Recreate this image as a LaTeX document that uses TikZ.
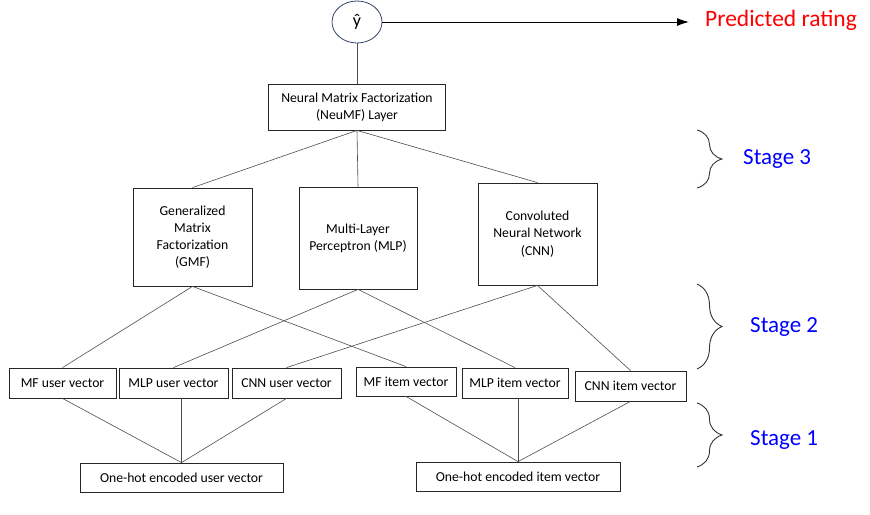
\documentclass[tikz,border=0pt]{standalone}
\usepackage{fontspec}
\setmainfont{Carlito}
\usetikzlibrary{arrows.meta,decorations.pathreplacing,shapes.geometric}
\definecolor{ovalblue}{HTML}{34456A}
\tikzstyle{block} = [draw=black!85, line width=0.8pt, align=center, inner sep=2pt, font=\fontsize{13.7}{17.2}\selectfont]
\tikzstyle{link} = [draw=black!70, line width=0.6pt]
\tikzstyle{stagebrace} = [draw=black!80, line width=0.9pt, decorate, decoration={brace, amplitude=25pt}]
\tikzstyle{stage} = [text=blue, font=\fontsize{23}{26}\selectfont, anchor=west, inner sep=0pt]

\begin{document}
\begin{tikzpicture}[x=1pt, y=-1pt]
\useasboundingbox (0,0) rectangle (870,514);

% output
\node[ellipse, draw=ovalblue, line width=0.8pt, minimum width=50pt, minimum height=42pt, inner sep=0pt, font=\fontsize{18}{20}\selectfont] (yhat) at (357,22) {ŷ};
\coordinate (tip) at (689,22);
\draw[line width=1pt, -{Latex[length=12pt,width=8pt]}] (yhat) -- (tip);
\node[text=red, font=\fontsize{23.5}{26}\selectfont, anchor=west, inner sep=0pt] (rating) at (705,20) {Predicted rating};

% stage 3
\node[block, minimum width=177pt, minimum height=46pt] (neumf) at (357,107) {Neural Matrix Factorization\\(NeuMF) Layer};
\node[block, minimum width=119pt, minimum height=98pt] (gmf) at (192.5,237) {Generalized\\Matrix\\Factorization\\(GMF)};
\node[block, minimum width=118pt, minimum height=102pt] (mlp) at (358,238) {Multi-Layer\\Perceptron (MLP)};
\node[block, minimum width=119pt, minimum height=102pt] (cnn) at (537.5,234) {Convoluted\\Neural Network\\(CNN)};

% embeddings
\node[block, minimum width=107pt, minimum height=30pt] (mfu) at (62.5,383) {MF user vector};
\node[block, minimum width=109pt, minimum height=30pt] (mlpu) at (173.5,383) {MLP user vector};
\node[block, minimum width=109pt, minimum height=30pt] (cnnu) at (286.5,383) {CNN user vector};
\node[block, minimum width=100pt, minimum height=29pt] (mfi) at (406,381.5) {MF item vector};
\node[block, minimum width=106pt, minimum height=30pt] (mlpi) at (515,383) {MLP item vector};
\node[block, minimum width=111pt, minimum height=30pt] (cnni) at (630.5,386) {CNN item vector};

% inputs
\node[block, minimum width=203pt, minimum height=29pt] (ohu) at (181.5,477.5) {One-hot encoded user vector};
\node[block, minimum width=204pt, minimum height=29pt] (ohi) at (518,476.5) {One-hot encoded item vector};

\draw[link] (yhat) -- (neumf);
\draw[link] (neumf.south) -- (gmf.north);
\draw[link] (neumf.south) -- (mlp.north);
\draw[link] (neumf.south) -- (cnn.north);

\draw[link] (gmf.south) -- (mfu.north);
\draw[link] (gmf.south) -- (mfi.north);
\draw[link] (mlp.south) -- (mlpu.north);
\draw[link] (mlp.south) -- (mlpi.north);
\draw[link] (cnn.south) -- (cnnu.north);
\draw[link] (cnn.south) -- (cnni.north);

\draw[link] (mfu.south) -- (ohu.north);
\draw[link] (mlpu.south -| ohu.north) -- (ohu.north);
\draw[link] (cnnu.south) -- (ohu.north);
\draw[link] (mfi.south) -- (ohi.north);
\draw[link] (mlpi.south -| ohi.north) -- (ohi.north);
\draw[link] (cnni.south) -- (ohi.north);

% stages
\coordinate (b3a) at (697,130); \coordinate (b3b) at (697,188);
\coordinate (b2a) at (697,284); \coordinate (b2b) at (697,369);
\coordinate (b1a) at (697,403); \coordinate (b1b) at (697,467);
\draw[stagebrace] (b3a) -- (b3b);
\draw[stagebrace] (b2a) -- (b2b);
\draw[stagebrace] (b1a) -- (b1b);
\node[stage] (s3) at (743,159) {Stage 3};
\node[stage] (s2) at (750,327) {Stage 2};
\node[stage] (s1) at (750,440) {Stage 1};

\end{tikzpicture}
\end{document}
